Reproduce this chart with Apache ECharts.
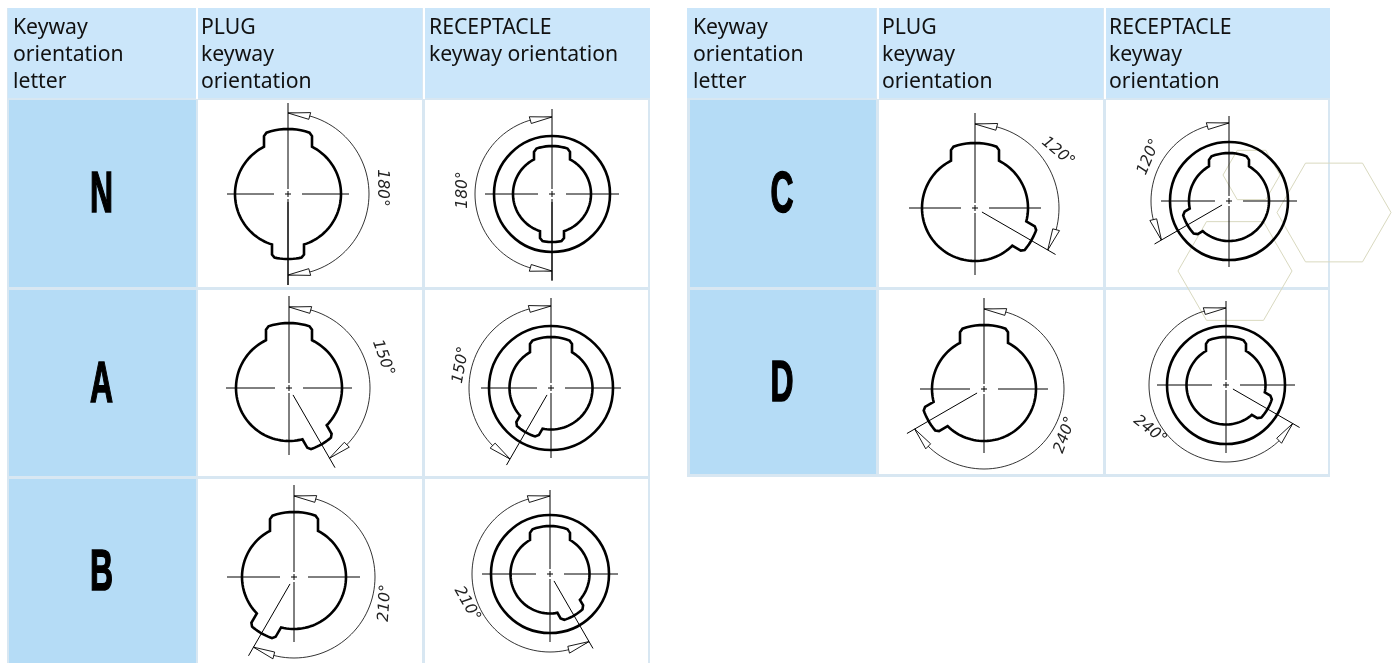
<!DOCTYPE html>
<html>
<head>
<meta charset="utf-8">
<title>Keyway orientation</title>
<script src="https://cdn.jsdelivr.net/npm/echarts@6/dist/echarts.min.js"></script>
<style>
  html, body { margin: 0; padding: 0; background: #fff; }
  #chart { width: 1394px; height: 663px; }
</style>
</head>
<body>
<div id="chart"></div>
<script>
// values
const leftLetters = ['N', 'A', 'B']
const rightLetters = ['C', 'D']
const allLetters = ['N', 'A', 'B', 'C', 'D']
const plugAngles = [180, 150, 210, 120, 240]
const receptacleAngles = [180, 150, 210, 120, 240]
const leftHeaders = ['Keyway\norientation\nletter', 'PLUG\nkeyway\norientation', 'RECEPTACLE\nkeyway orientation']
const rightHeaders = ['Keyway\norientation\nletter', 'PLUG\nkeyway\norientation', 'RECEPTACLE\nkeyway\norientation']

// table geometry, in axis units (axes below run 1:1 with the page)
const tables = [
  { letters: leftLetters, headers: leftHeaders, frame: [7, 8, 650, 663], textX: [13, 201, 429], letterX: 101.5, headLeft: 8,
    cols: [[9, 196], [198, 422], [425, 648]], head: [8, 98], rows: [[100, 287], [290, 476], [479, 663]] },
  { letters: rightLetters, headers: rightHeaders, frame: [687, 8, 1330, 477], textX: [693, 882, 1109], letterX: 782, headLeft: 687,
    cols: [[690, 876], [879, 1103], [1106, 1328]], head: [8, 98], rows: [[100, 287], [290, 474]] }
]

// per drawing layout: cx, cy, body radius, key radius, key half width, 2nd key half width,
// dimension radius, centre line up/down/left/right, witness line length, label x, y, label rotation
const plugLayout = {
  N: [288, 194, 53, 65, 24, 16, 81, 91, 91, 61, 61, 91, 382, 188, -90],
  A: [289, 388, 53, 65, 23, 14, 81, 92, 67, 63, 63, 92, 383, 358, -70],
  B: [294, 577, 52, 65, 24, 14, 81, 92, 65, 67, 66, 91, 385, 603, 86],
  C: [975, 208, 53, 65, 24, 14, 84, 95, 67, 66, 66, 93, 1058, 152, -40],
  D: [984, 389, 52, 64, 24, 14, 80, 91, 64, 64, 64, 89, 1065, 435, 70]
}
// same, with the outer ring radius added after cy
const receptacleLayout = {
  N: [552, 194, 58, 39, 48, 18, 12, 77, 85, 87, 67, 67, 86, 463, 190, 90],
  A: [551, 388, 62, 41.5, 51, 21, 13, 82, 90, 70, 70, 70, 89, 461, 365, 80],
  B: [550, 574, 59, 39.5, 48, 20, 13, 78, 84, 68, 68, 68, 86, 467, 604, -60],
  C: [1229, 201, 59, 40, 48, 20, 13, 78, 85, 66, 68, 68, 86, 1149, 157, 67],
  D: [1226, 385, 59, 39.5, 48, 20, 13, 77, 84, 68, 69, 69, 85, 1150, 430, -38]
}

// pale hexagons that lie over the right table: cx, cy, radius
const hexagons = [[1334, 212.5, 57], [1235, 271, 57], [1251.5, 175, 28.5]]

const INK = '#000'

// angle is measured from 12 o'clock, positive = clockwise
function polar(cx, cy, rad, deg) {
  const a = deg * Math.PI / 180
  return [cx + rad * Math.sin(a), cy - rad * Math.cos(a)]
}

// one key seen from its own axis, going clockwise round the outline
function keyPoints(cx, cy, axis, r, keyR, hw) {
  const a = axis * Math.PI / 180
  const local = (u, v) => [cx + u * Math.cos(a) + v * Math.sin(a), cy + u * Math.sin(a) - v * Math.cos(a)]
  const pts = [local(-hw, Math.sqrt(r * r - hw * hw)), local(-hw, Math.sqrt(keyR * keyR - hw * hw) - 2.5)]
  const tip = (hw - 2.5)
  for (let u = -tip; u <= tip + 0.01; u += tip / 5) {
    pts.push(local(u, Math.sqrt(keyR * keyR - u * u)))
  }
  pts.push(local(hw, Math.sqrt(keyR * keyR - hw * hw) - 2.5), local(hw, Math.sqrt(r * r - hw * hw)))
  return pts
}

function arcPoints(cx, cy, rad, from, to) {
  const pts = []
  const n = Math.ceil(Math.abs(to - from) / 3)
  for (let i = 0; i <= n; i++) pts.push(polar(cx, cy, rad, from + (to - from) * i / n))
  return pts
}

// body circle with the main key at the top and the second key at the given angle (0..360)
function outline(cx, cy, r, keyR, hw, hw2, angle) {
  const deg = x => Math.asin(x) * 180 / Math.PI
  const a1 = deg(hw / r)
  const a2 = deg(hw2 / r)
  return [].concat(
    keyPoints(cx, cy, 0, r, keyR, hw),
    arcPoints(cx, cy, r, a1, angle - a2),
    keyPoints(cx, cy, angle, r, keyR, hw2),
    arcPoints(cx, cy, r, angle + a2, 360 - a1)
  )
}

function arrowHead(cx, cy, R, tipDeg, dir) {
  const span = 22 / R * 180 / Math.PI * dir
  return [polar(cx, cy, R, tipDeg), polar(cx, cy, R + 3.5, tipDeg + span), polar(cx, cy, R - 3.5, tipDeg + span)]
}

function drawing(api, letter, angle, isPlug) {
  const L = (isPlug ? plugLayout : receptacleLayout)[letter]
  const dir = isPlug ? 1 : -1
  const [cx, cy] = L
  const toPage = pts => pts.map(p => api.coord(p))
  const line = (pts, width, closed) => ({
    type: closed ? 'polygon' : 'polyline',
    shape: { points: toPage(pts) },
    style: { stroke: INK, fill: closed === 'white' ? '#fff' : 'none', lineWidth: width }
  })
  const kids = []
  let R, up, down, left, right, witness, lx, ly, rot
  if (isPlug) {
    const [, , r, keyR, hw, hw2] = L
    ;[R, up, down, left, right, witness, lx, ly, rot] = L.slice(6)
    kids.push(line(outline(cx, cy, r, keyR, hw, hw2, angle), 2.6, true))
  } else {
    const [, , ring, r, keyR, hw, hw2] = L
    ;[R, up, down, left, right, witness, lx, ly, rot] = L.slice(7)
    const c = api.coord([cx, cy])
    kids.push({ type: 'circle', shape: { cx: c[0], cy: c[1], r: ring }, style: { stroke: INK, fill: 'none', lineWidth: 2.6 } })
    kids.push(line(outline(cx, cy, r, keyR, hw, hw2, 360 - angle), 2.6, true))
  }
  // centre lines with the small cross in the middle
  kids.push(line([[cx, cy - up], [cx, cy - 5]], 1))
  kids.push(line([[cx, cy + 5], [cx, cy + down]], 1))
  kids.push(line([[cx - left, cy], [cx - 14, cy]], 1))
  kids.push(line([[cx + 14, cy], [cx + right, cy]], 1))
  kids.push(line([[cx - 3, cy], [cx + 3, cy]], 1))
  kids.push(line([[cx, cy - 3], [cx, cy + 3]], 1))
  // witness line and dimension arc
  kids.push(line([polar(cx, cy, 8, dir * angle), polar(cx, cy, witness, dir * angle)], 1))
  kids.push(line(arcPoints(cx, cy, R, 0, dir * angle), 0.8))
  kids.push(line(arrowHead(cx, cy, R, 0, dir), 0.9, 'white'))
  kids.push(line(arrowHead(cx, cy, R, dir * angle, -dir), 0.9, 'white'))
  const t = api.coord([lx, ly])
  kids.push({
    type: 'text', x: t[0], y: t[1], rotation: rot * Math.PI / 180,
    style: { text: angle + '°', fill: '#222', font: 'italic 200 15.5px "DejaVu Sans"', textAlign: 'center', verticalAlign: 'middle' }
  })
  return { type: 'group', children: kids }
}

function rect(api, x0, y0, x1, y1, fill) {
  const a = api.coord([x0, y0])
  const b = api.coord([x1, y1])
  return { type: 'rect', shape: { x: a[0], y: a[1], width: b[0] - a[0], height: b[1] - a[1] }, style: { fill: fill } }
}

function renderTable(params, api) {
  const t = tables[api.value(0)]
  const kids = [rect(api, t.frame[0], t.frame[1], t.frame[2], t.frame[3], '#d8e7f2')]
  t.cols.forEach((col, i) => {
    // white gap between the header cells
    if (i > 0) kids.push(rect(api, col[0] - 2, t.head[0], col[0], t.head[1] + 1, '#fff'))
    kids.push(rect(api, i === 0 ? t.headLeft : col[0], t.head[0], col[1] + (i === 2 ? 2 : 0), t.head[1], '#cbe6fa'))
    const p = api.coord([t.textX[i], t.head[0] + 7])
    kids.push({
      type: 'text', x: p[0], y: p[1],
      style: { text: t.headers[i], fill: '#111', font: '21.2px "Noto Sans"', lineHeight: 26.7, textAlign: 'left', verticalAlign: 'top' }
    })
    t.rows.forEach(row => kids.push(rect(api, col[0], row[0], col[1], row[1], i === 0 ? '#b5dcf6' : '#fff')))
  })
  t.rows.forEach((row, i) => {
    const c = api.coord([t.letterX, (row[0] + row[1]) / 2 + 2.5])
    kids.push({
      type: 'text', x: c[0], y: c[1], scaleX: 0.55,
      style: { text: t.letters[i], fill: '#000', stroke: '#000', lineWidth: 1.6, font: 'bold 58px "Liberation Sans"', textAlign: 'center', verticalAlign: 'middle' }
    })
  })
  return { type: 'group', children: kids }
}

function renderHexagon(params, api) {
  const [cx, cy, r] = [api.value(0), api.value(1), api.value(2)]
  const pts = [90, 150, 210, 270, 330, 30].map(d => api.coord(polar(cx, cy, r, d)))
  return { type: 'polygon', shape: { points: pts }, style: { stroke: '#d9d9bf', fill: 'none', lineWidth: 1 } }
}

function renderDrawing(params, api) {
  const i = api.value(0)
  return drawing(api, allLetters[i], api.value(1) === 1 ? plugAngles[i] : receptacleAngles[i], api.value(1) === 1)
}

const myChart = echarts.init(document.getElementById('chart'), null, { renderer: 'canvas' })
const option = {
  animation: false,
  backgroundColor: '#fff',
  grid: { left: 0, right: 0, top: 0, bottom: 0 },
  xAxis: { type: 'value', min: 0, max: 1394, show: false },
  yAxis: { type: 'value', min: 0, max: 663, inverse: true, show: false },
  series: [
    { type: 'custom', coordinateSystem: 'cartesian2d', clip: false, silent: true, z: 1,
      data: tables.map((t, i) => [i]), renderItem: renderTable },
    { type: 'custom', coordinateSystem: 'cartesian2d', clip: false, silent: true, z: 2,
      data: hexagons, renderItem: renderHexagon },
    { type: 'custom', coordinateSystem: 'cartesian2d', clip: false, silent: true, z: 3,
      data: allLetters.flatMap((l, i) => [[i, 1], [i, 0]]), renderItem: renderDrawing }
  ]
}
myChart.setOption(option)
</script>
</body>
</html>
